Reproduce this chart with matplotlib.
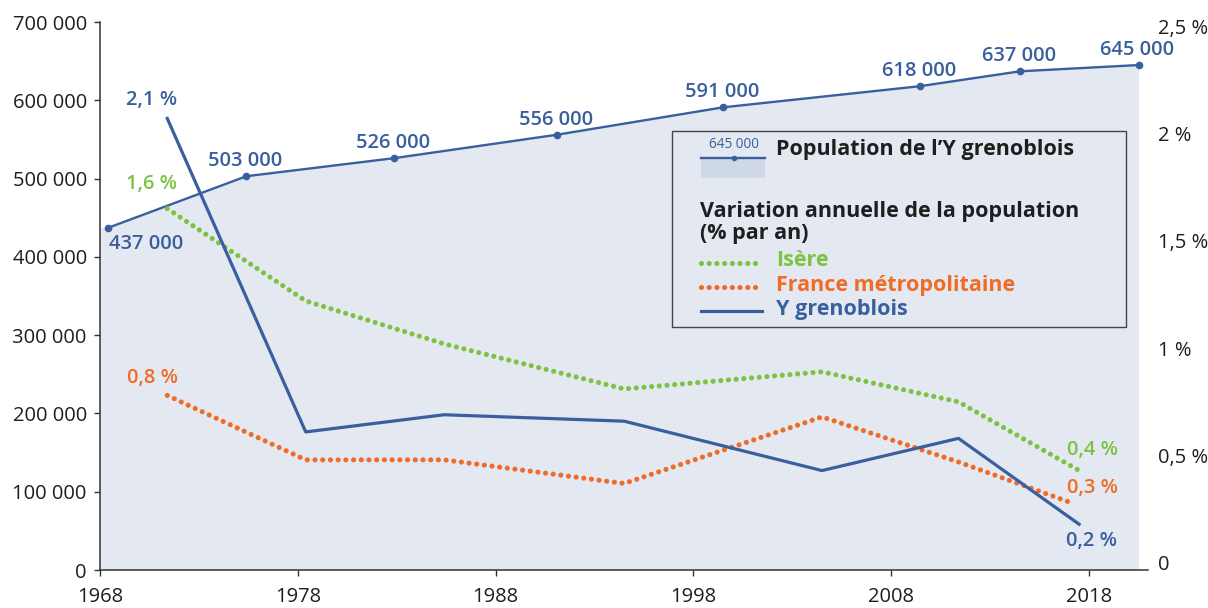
import matplotlib
matplotlib.use("Agg")
import matplotlib.pyplot as plt
from matplotlib.lines import Line2D
from matplotlib.patches import Rectangle
from matplotlib.ticker import FuncFormatter

plt.rcParams['font.family'] = ['Open Sans', 'DejaVu Sans']

# population de l'Y grenoblois (recensements)
pop_years = [1968.4, 1975.4, 1982.85, 1991.1, 1999.5, 2009.45, 2014.5, 2020.5]
pop = [437000, 503000, 526000, 556000, 591000, 618000, 637000, 645000]

# variation annuelle (% par an), placee au milieu de chaque periode
var_years = [1971.4, 1978.4, 1985.4, 1994.5, 2004.5, 2011.4, 2017.5]
france_years = [1971.4, 1978.4, 1985.4, 1994.5, 2004.5, 2011.4, 2017.1]
isere = [1.65, 1.22, 1.02, 0.81, 0.89, 0.75, 0.43]
france = [0.78, 0.48, 0.48, 0.37, 0.68, 0.47, 0.28]
ygren = [2.07, 0.61, 0.69, 0.66, 0.43, 0.58, 0.18]

x_ticks = [1968, 1978, 1988, 1998, 2008, 2018]
pop_ticks = [0, 100000, 200000, 300000, 400000, 500000, 600000, 700000]
pct_ticks = [0, 0.5, 1, 1.5, 2, 2.5]

BLUE = '#3a5f9f'
GREEN = '#7dc242'
ORANGE = '#f06c26'
FILL = '#e3e8f1'
DARK = '#1e1e1e'

W, H = 1208, 608
FS = 14.5      # tick labels / data labels
FS_LEG = 15.5  # legend


def fp(x, y):
    """pixel -> figure fraction"""
    return x / W, 1 - y / H


def fmt_num(v):
    return f"{v:,.0f}".replace(",", " ")


def fmt_pct(v):
    if v == 0:
        return "0"
    s = f"{v:g}".replace(".", ",")
    return s + " %"


fig = plt.figure(figsize=(W / 100, H / 100), dpi=100)
ax = fig.add_axes([100 / W, 1 - 570 / H, 1048 / W, 548 / H])
ax2 = ax.twinx()

# --- population (axe gauche)
ax.fill_between([1968] + pop_years, [pop[0]] + pop, 0, color=FILL, lw=0, zorder=1)
ax.plot(pop_years, pop, color=BLUE, lw=1.7, marker='o', ms=4.5, zorder=3)
for i, (x, v) in enumerate(zip(pop_years, pop)):
    off = (38, -16) if i == 0 else (-1, 15)
    ax.annotate(fmt_num(v), (x, v), xytext=off, textcoords='offset pixels',
                ha='center', va='center', color=BLUE, fontsize=FS,
                fontweight='semibold', zorder=4)

ax.set_xlim(1968, 2020.98)
ax.set_ylim(0, 700000)
ax.set_xticks(x_ticks)
ax.set_yticks(pop_ticks)
ax.yaxis.set_major_formatter(FuncFormatter(lambda v, p: fmt_num(v)))
for s in ['top', 'right']:
    ax.spines[s].set_visible(False)
for s in ['left', 'bottom']:
    ax.spines[s].set_color('#333333')
    ax.spines[s].set_linewidth(1.1)
ax.tick_params(axis='both', colors='#333333', labelcolor=DARK, labelsize=FS,
               length=4.5, width=1.0, direction='out')
ax.tick_params(axis='y', pad=5)
ax.tick_params(axis='x', pad=8)

# --- variations (axe droit)
ax2.set_ylim(-0.033, 2.519)
ax2.set_yticks(pct_ticks)
ax2.yaxis.set_major_formatter(FuncFormatter(lambda v, p: fmt_pct(v)))
ax2.tick_params(axis='y', length=0, pad=7, labelsize=FS, labelcolor=DARK)
for s in ax2.spines.values():
    s.set_visible(False)

dot = dict(lw=3.7, linestyle=(0, (0.001, 1.5)), dash_capstyle='round')
ax2.plot(var_years, isere, color=GREEN, **dot, zorder=3)
ax2.plot(france_years, france, color=ORANGE, **dot, zorder=3)
ax2.plot(var_years, ygren, color=BLUE, lw=2.3, zorder=4)

lab = dict(textcoords='offset pixels', ha='center', va='center',
           fontsize=FS, fontweight='semibold')
ax2.annotate(fmt_pct(round(ygren[0], 1)), (var_years[0], ygren[0]), xytext=(-16, 18), color=BLUE, **lab)
ax2.annotate(fmt_pct(1.6), (var_years[0], isere[0]), xytext=(-16, 25), color=GREEN, **lab)
ax2.annotate(fmt_pct(round(france[0], 1)), (france_years[0], france[0]), xytext=(-15, 17), color=ORANGE, **lab)
ax2.annotate(fmt_pct(round(isere[-1], 1)), (var_years[-1], isere[-1]), xytext=(13, 21), color=GREEN, **lab)
ax2.annotate(fmt_pct(round(france[-1], 1)), (france_years[-1], france[-1]), xytext=(21, 15), color=ORANGE, **lab)
ax2.annotate(fmt_pct(round(ygren[-1], 1)), (var_years[-1], ygren[-1]), xytext=(12, -17), color=BLUE, **lab)

# --- legende
tf = fig.transFigure
x0, y0 = fp(672, 131)
x1, y1 = fp(1126, 327)
fig.add_artist(Rectangle((x0, y1), x1 - x0, y0 - y1, transform=tf, fill=False,
                         ec='#444444', lw=1.0))
px0, py0 = fp(701, 158)
px1, py1 = fp(765, 178)
fig.add_artist(Rectangle((px0, py1), px1 - px0, py0 - py1, transform=tf,
                         fc='#cfd8e7', ec='none'))
fig.add_artist(Line2D([px0, px1], [py0, py0], transform=tf, color=BLUE, lw=1.7))
fig.add_artist(Line2D([fp(734, 158)[0]], [py0], transform=tf, color=BLUE,
                      marker='o', ms=3))
fig.text(*fp(734, 145), "645 000", transform=tf, ha='center', va='center',
         color=BLUE, fontsize=9.8)
fig.text(*fp(776, 150), "Population de l’Y grenoblois", ha='left', va='center',
         color=DARK, fontsize=FS_LEG, fontweight='bold')
fig.text(*fp(700, 211), "Variation annuelle de la population", ha='left',
         va='center', color=DARK, fontsize=FS_LEG, fontweight='bold')
fig.text(*fp(700, 233), "(% par an)", ha='left', va='center', color=DARK,
         fontsize=FS_LEG, fontweight='bold')

rows = [(GREEN, "Isère", True, 263), (ORANGE, "France métropolitaine", True, 287),
        (BLUE, "Y grenoblois", False, 311)]
for col, txt, dotted, yy in rows:
    a, b = fp(701, yy)
    c, _ = fp(762, yy)
    if dotted:
        fig.add_artist(Line2D([a, c], [b, b], transform=tf, color=col, **dot))
    else:
        fig.add_artist(Line2D([a, c], [b, b], transform=tf, color=col, lw=2.3))
    fig.text(*fp(776, yy - 2), txt, ha='left', va='center', color=col,
             fontsize=FS_LEG, fontweight='bold')

fig.savefig("out.png", dpi=100)
